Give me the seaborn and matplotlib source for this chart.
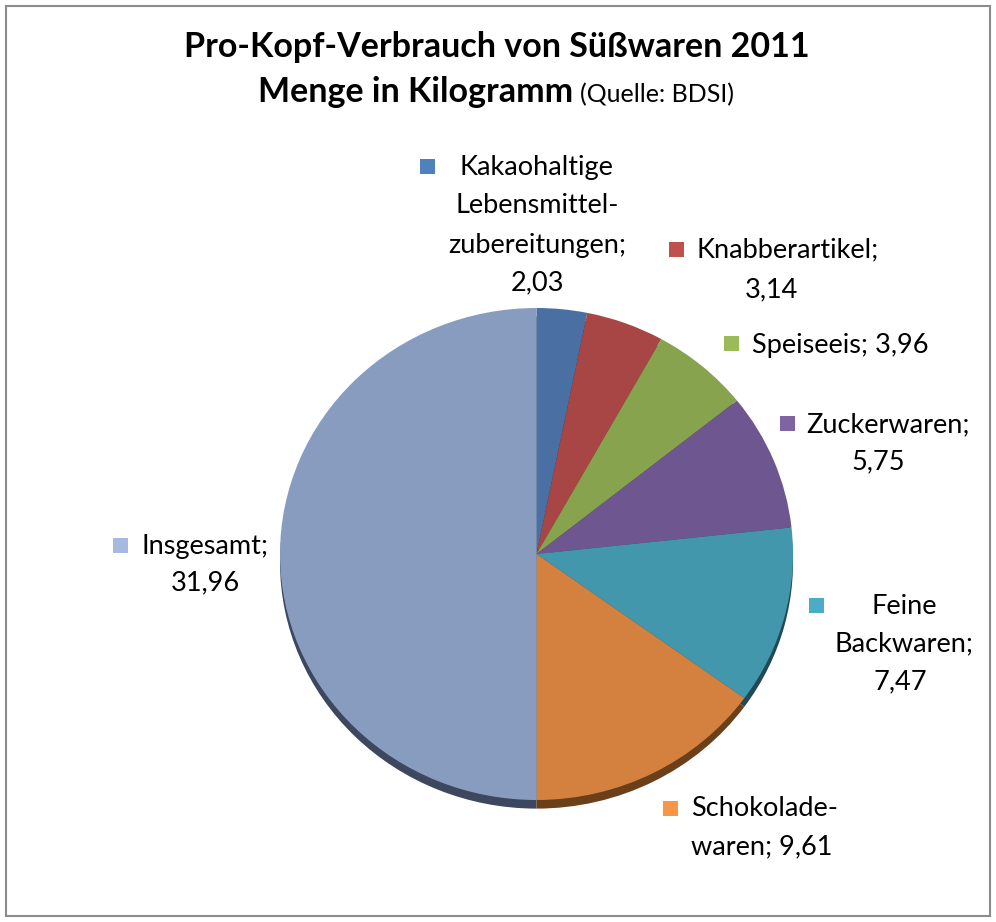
import matplotlib
matplotlib.use("Agg")
import matplotlib.pyplot as plt
from matplotlib.patches import Rectangle
import seaborn as sns

categories = ["Kakaohaltige Lebensmittelzubereitungen", "Knabberartikel", "Speiseeis",
              "Zuckerwaren", "Feine Backwaren", "Schokoladewaren", "Insgesamt"]
values = [2.03, 3.14, 3.96, 5.75, 7.47, 9.61, 31.96]
colors = ["#4A70A3", "#A74644", "#87A34E", "#6E5690", "#4297AD", "#D4803F", "#889CC0"]
key_colors = ["#4F81BD", "#C0504D", "#9BBB59", "#8064A2", "#4BACC6", "#F79646", "#A7B9DE"]
shadow_colors = ["#24374F", "#522221", "#43502A", "#362A47", "#204A55", "#6A3F1A", "#3D475E"]

# label lines per slice (text as in the chart)
label_lines = [
    ["Kakaohaltige", "Lebensmittel-", "zubereitungen;", "2,03"],
    ["Knabberartikel;", "3,14"],
    ["Speiseeis; 3,96"],
    ["Zuckerwaren;", "5,75"],
    ["Feine", "Backwaren;", "7,47"],
    ["Schokolade-", "waren; 9,61"],
    ["Insgesamt;", "31,96"],
]

W, H = 996, 922
sns.set_theme(style="white")
plt.rcParams["font.family"] = ["Lato", "DejaVu Sans"]

fig = plt.figure(figsize=(W / 100, H / 100), dpi=100)
fig.patch.set_facecolor("white")

# pie centre / radii in pixels
cx, cy, rx, ry = 536.5, 554, 256.5, 246
ax = fig.add_axes([0, 0, 1, 1])
ax.pie(values, colors=shadow_colors, startangle=90, counterclock=False,
       center=(0, -0.035), radius=1, wedgeprops=dict(linewidth=0))
ax.pie(values, colors=colors, startangle=90, counterclock=False,
       radius=1, wedgeprops=dict(linewidth=0))
ax.set_aspect("auto")
ax.set_xlim(-cx / rx, (W - cx) / rx)
ax.set_ylim(-(H - cy) / ry, cy / ry)
ax.axis("off")


def px(x, y):
    return x / W, 1 - y / H


# outer frame
fig.add_artist(Rectangle(px(6, 916), 984 / W, 910 / H, transform=fig.transFigure,
                         fill=False, edgecolor="#8C8C8C", linewidth=1.5))

# title
fig.text(*px(497, 47), "Pro-Kopf-Verbrauch von Süßwaren 2011", ha="center", va="center",
         fontsize=24.5, fontweight="bold", color="black")
fig.text(*px(573, 92), "Menge in Kilogramm", ha="right", va="center",
         fontsize=24.5, fontweight="bold", color="black")
fig.text(*px(580, 95), "(Quelle: BDSI)", ha="left", va="center",
         fontsize=18, color="black")

# data labels: (square x, square y, [(line x, line y), ...])
label_pos = [
    (427, 167, [(536, 167), (537, 205), (537, 245), (537, 283)]),
    (676, 250, [(788, 250), (771, 290)]),
    (731, 344, [(840, 345)]),
    (787, 424, [(888, 425), (878, 462)]),
    (816, 606, [(904, 607), (904, 644), (900, 682)]),
    (670, 808, [(765, 808), (762, 847)]),
    (120, 545, [(205, 546), (205, 583)]),
]
sq = 15
for lines, kc, (sx, sy, pos) in zip(label_lines, key_colors, label_pos):
    fig.add_artist(Rectangle(px(sx - sq / 2, sy + sq / 2), sq / W, sq / H,
                             transform=fig.transFigure, facecolor=kc, edgecolor="none"))
    for text, (lx, ly) in zip(lines, pos):
        fig.text(*px(lx, ly), text, ha="center", va="center", fontsize=19.5, color="black")

fig.savefig("out.png", dpi=100)
